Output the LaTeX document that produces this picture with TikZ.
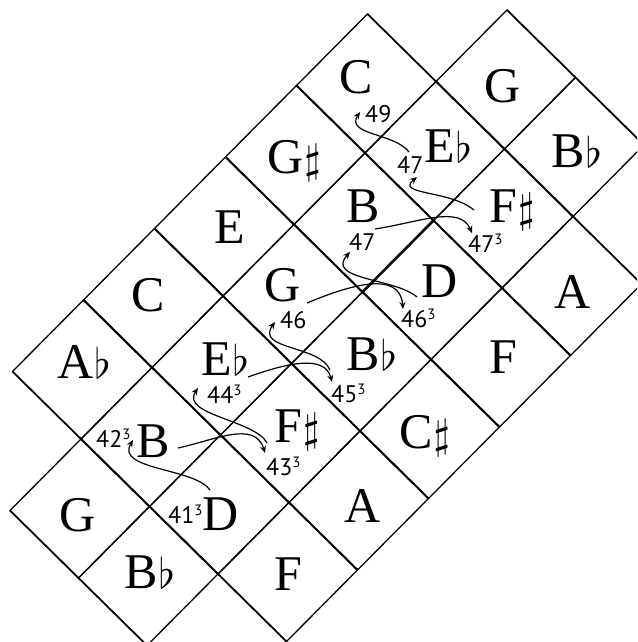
\documentclass[tikz,border=0pt]{standalone}
\usepackage{fontspec}
\setmainfont{Liberation Serif}
\newfontfamily\numfont{PT Sans}
\usetikzlibrary{arrows.meta}
\newcommand\cub{\raisebox{8pt}{\fontsize{15}{15}\selectfont 3}}
\newcommand\fl{\kern1pt\scalebox{4.2}{\normalsize$\flat$}}
\newcommand\sh{\kern1pt\scalebox{4.2}{\normalsize$\sharp$}}
\tikzset{
  note/.style={anchor=base west, inner sep=0pt, font=\fontsize{50}{50}\selectfont},
  num/.style={anchor=base west, inner sep=0pt, font=\numfont\fontsize{24}{24}\selectfont},
  move/.style={line width=1.2pt, -{Stealth[length=7pt,width=6pt]}},
  aedge/.style={line width=1.8pt, line cap=round},
  bedge/.style={line width=1.3pt, line cap=round},
}
\begin{document}
\begin{tikzpicture}[x=1pt,y=-1pt]
\clip (0,0) rectangle (637,642);
\begin{scope}[shift={(507pt,-10pt)}, x={(68.5pt,-67.5pt)}, y={(-71pt,-71.5pt)}]
\foreach \i/\j in {-1/1,-1/2,-1/3,-1/4,-1/5,0/0,0/1,0/2,0/3,0/4,0/5,0/6,1/0,1/1,1/2,1/3,1/4,1/5,1/6,2/1,2/2,2/3,2/4,2/5}{
  \draw[aedge] (\i,\j) -- (\i+1,\j) (\i,\j+1) -- (\i+1,\j+1);
  \draw[bedge] (\i,\j) -- (\i,\j+1) (\i+1,\j) -- (\i+1,\j+1);
}
\draw[line width=2.6pt] (1,2) -- (1,3);
\end{scope}

\node[note] (nC1) at (339,93) {C};
\node[note] (nG1) at (484,102) {G};
\node[note] (nEb1) at (424,162) {E\fl};
\node[note] (nBb1) at (551,167) {B\fl};
\node[note] (nGs) at (267,173) {G\sh};
\node[note] (nB1) at (346,222) {B};
\node[note] (nFs1) at (489,222) {F\sh};
\node[note] (nE) at (214,243) {E};
\node[note] (nG2) at (264,301) {G};
\node[note] (nD1) at (421,297) {D};
\node[note] (nA1) at (554,308) {A};
\node[note] (nC2) at (131,311) {C};
\node[note] (nEb2) at (201,375) {E\fl};
\node[note] (nBb2) at (346,370) {B\fl};
\node[note] (nF1) at (489,373) {F};
\node[note] (nAb) at (57,378) {A\fl};
\node[note] (nB2) at (136,457) {B};
\node[note] (nFs2) at (274,442) {F\sh};
\node[note] (nCs) at (399,448) {C\sh};
\node[note] (nG3) at (59,531) {G};
\node[note] (nD2) at (202,530) {D};
\node[note] (nA2) at (344,522) {A};
\node[note] (nBb3) at (124,588) {B\fl};
\node[note] (nF2) at (274,590) {F};

\node[num] (l49) at (365,122) {49};
\node[num] (l47a) at (397,173) {47};
\node[num] (l47c) at (468,252) {47\cub};
\node[num] (l47b) at (349,250) {47};
\node[num] (l46) at (280,328) {46};
\node[num] (l46c) at (401,327) {46\cub};
\node[num] (l45c) at (331,402) {45\cub};
\node[num] (l44c) at (207,403) {44\cub};
\node[num] (l43c) at (266,475) {43\cub};
\node[num] (l42c) at (96,447) {42\cub};
\node[num] (l41c) at (168,523) {41\cub};

\coordinate (s1) at (409,152); \coordinate (t1) at (360,112);
\coordinate (s2) at (474,210); \coordinate (t2) at (417,177);
\coordinate (s3) at (375,229); \coordinate (t3) at (472,233);
\coordinate (s4) at (417,297); \coordinate (t4) at (350,252);
\coordinate (s5) at (307,303); \coordinate (t5) at (403,309);
\coordinate (s6) at (330,370); \coordinate (t6) at (275,322);
\coordinate (s7) at (248,377); \coordinate (t7) at (332,382);
\coordinate (s8) at (178,448); \coordinate (t8) at (265,453);
\coordinate (s9) at (267,443); \coordinate (t9) at (198,388);
\coordinate (s10) at (210,490); \coordinate (t10) at (133,440);

\draw[move] (s1) .. controls (395,133) and (345,135) .. (t1);
\draw[move] (s2) .. controls (450,190) and (395,195) .. (t2);
\draw[move] (s3) .. controls (420,222) and (460,205) .. (t3);
\draw[move] (s4) .. controls (395,278) and (325,280) .. (t4);
\draw[move] (s5) .. controls (350,285) and (400,270) .. (t5);
\draw[move] (s6) .. controls (320,345) and (255,350) .. (t6);
\draw[move] (s7) .. controls (290,362) and (325,355) .. (t7);
\draw[move] (s8) .. controls (215,440) and (255,420) .. (t8);
\draw[move] (s9) .. controls (255,420) and (180,415) .. (t9);
\draw[move] (s10) .. controls (195,468) and (115,470) .. (t10);
\end{tikzpicture}
\end{document}
